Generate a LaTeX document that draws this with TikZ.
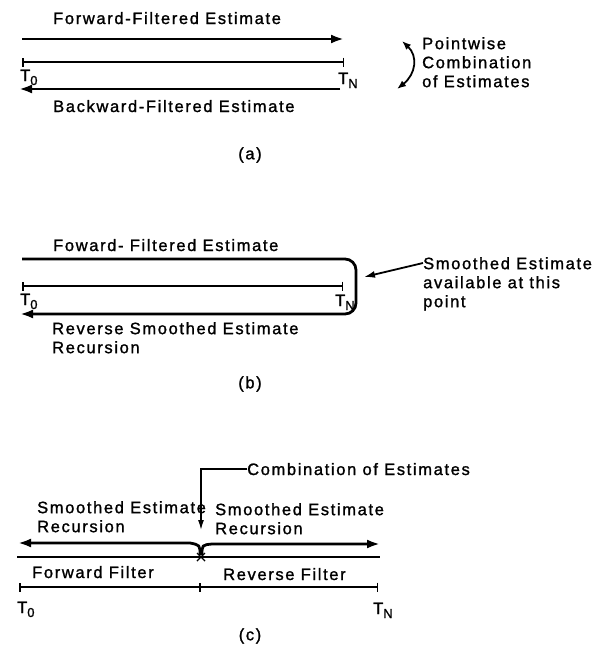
\documentclass[tikz,border=0pt]{standalone}
\usepackage{fontspec}
\setmainfont{Liberation Sans}[LetterSpace=10,FakeBold=1.3]
\usetikzlibrary{arrows.meta}
\newcommand\Tsub[1]{T\raisebox{-4pt}{\fontsize{13}{13}\selectfont #1}}
\tikzset{
  lbl/.style={inner sep=0pt, font=\fontsize{16.5}{19.5}\selectfont, anchor=base west},
  multi/.style={inner sep=0pt, font=\fontsize{16.5}{19}\selectfont, align=left, anchor=north west},
  caplbl/.style={inner sep=0pt, font=\fontsize{16.5}{19.5}\selectfont},
  bigarrow/.style={line width=2.8pt, -{Latex[length=13pt,width=9pt]}},
  interval/.style={line width=1.5pt, {Bar[width=9pt]}-{Bar[width=9pt]}},
  pointer/.style={line width=1.8pt, -{Latex[length=11pt,width=7pt]}},
}
\begin{document}
\begin{tikzpicture}[x=1pt,y=-1pt]
\useasboundingbox (0,0) rectangle (602,646);
% ---------------- (a)
\node[lbl] (fwdA) at (53,24) {Forward-Filtered Estimate};
\coordinate (a1) at (22,39); \coordinate (a2) at (344,39);
\draw[bigarrow] (a1) -- (a2);
\coordinate (a3) at (22,62); \coordinate (a4) at (344,62);
\draw[interval] (a3) -- (a4);
\node[lbl] (t0a) at (20,81) {\Tsub{0}};
\node[lbl] (tNa) at (338,84) {\Tsub{N}};
\coordinate (a5) at (340,89); \coordinate (a6) at (19,89);
\draw[bigarrow] (a5) -- (a6);
\node[lbl] (bwdA) at (53,112) {Backward-Filtered Estimate};
\coordinate (c1) at (402,41); \coordinate (c2) at (397,89);
\draw[line width=1.8pt, {Latex[length=9pt,width=7pt]}-{Latex[length=9pt,width=7pt]}] (c1) .. controls (418,56) and (416,74) .. (c2);
\node[multi] (pw) at (422,37) {Pointwise\\Combination\\of Estimates};
\node[caplbl] (capA) at (250,155) {(a)};
% ---------------- (b)
\node[lbl] (fwdB) at (53,251) {Foward- Filtered Estimate};
\coordinate (b1) at (22,259); \coordinate (b2) at (356,259);
\coordinate (b3) at (356,314); \coordinate (b4) at (20,314);
\draw[bigarrow, rounded corners=11pt] (b1) -- (b2) -- (b3) -- (b4);
\coordinate (b5) at (22,286); \coordinate (b6) at (343,286);
\draw[interval] (b5) -- (b6);
\node[lbl] (t0b) at (20,305) {\Tsub{0}};
\node[lbl] (tNb) at (335,306) {\Tsub{N}};
\node[multi] (rev) at (52,322) {Reverse Smoothed Estimate\\Recursion};
\node[multi] (sm) at (423,257) {Smoothed Estimate\\available at this\\point};
\coordinate (b7) at (364,277);
\draw[pointer] (sm.west |- 0,263) -- (b7);
\node[caplbl] (capB) at (250,384) {(b)};
% ---------------- (c)
\node[lbl] (comb) at (247,475) {Combination of Estimates};
\coordinate (d1) at (201,469); \coordinate (d2) at (201,530);
\draw[line width=1.4pt, -{Latex[length=10pt,width=6pt]}] (comb.west |- d1) -- (d1) -- (d2);
\node[multi] (smL) at (37,501) {Smoothed Estimate\\Recursion};
\node[multi] (smR) at (215,503) {Smoothed Estimate\\Recursion};
\coordinate (e0) at (200,555); \coordinate (e1) at (18,543);
\draw[bigarrow] (e0) .. controls (200,545) .. (190,543) -- (e1);
\coordinate (e2) at (202,555); \coordinate (e3) at (380,544);
\draw[bigarrow] (e2) .. controls (202,545) .. (212,544) -- (e3);
\coordinate (f1) at (17,557); \coordinate (f2) at (380,557);
\draw[line width=2.4pt] (f1) -- (f2);
\coordinate (x0) at (201,557);
\draw[line width=1.4pt] ([shift={(-4,-4)}]x0) -- ([shift={(4,4)}]x0) ([shift={(-4,4)}]x0) -- ([shift={(4,-4)}]x0);
\node[lbl] (ff) at (32,578) {Forward Filter};
\node[lbl] (rf) at (223,580) {Reverse Filter};
\coordinate (g1) at (19,587); \coordinate (g2) at (378,587); \coordinate (gm) at (200,587);
\draw[interval] (g1) -- (g2);
\draw[line width=1.5pt] ([yshift=-4.5pt]gm) -- ([yshift=4.5pt]gm);
\node[lbl] (t0c) at (17,613) {\Tsub{0}};
\node[lbl] (tNc) at (373,614) {\Tsub{N}};
\node[caplbl] (capC) at (250,636) {(c)};
\end{tikzpicture}
\end{document}
